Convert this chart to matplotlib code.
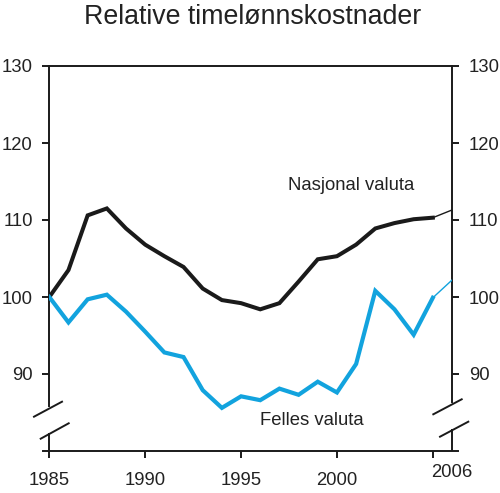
import matplotlib
matplotlib.use("Agg")
import matplotlib.pyplot as plt
from matplotlib.lines import Line2D

plt.rcParams['font.family'] = ['Liberation Sans', 'DejaVu Sans']

# Data (index, 1985 = 100)
years = list(range(1985, 2007))
nasjonal = [100.0, 103.5, 110.6, 111.5, 108.9, 106.8, 105.3, 103.9, 101.1, 99.6, 99.2,
            98.4, 99.2, 102.0, 104.9, 105.3, 106.8, 108.9, 109.6, 110.1, 110.3, 111.3]
felles = [100.0, 96.7, 99.7, 100.3, 98.1, 95.5, 92.8, 92.2, 87.9, 85.6, 87.1,
          86.6, 88.1, 87.3, 89.0, 87.6, 91.3, 100.8, 98.4, 95.1, 99.9, 102.2]
xticks = [1985, 1990, 1995, 2000, 2005]
xticklabels = ['1985', '1990', '1995', '2000', '']
yticks = [90, 100, 110, 120, 130]

black = '#1a1a1a'
blue = '#12a3de'
W, H = 500, 493

fig = plt.figure(figsize=(5, 4.93), dpi=100)
ax = fig.add_axes([49.3 / W, 1 - 451 / H, (452 - 49.3) / W, (451 - 66) / H])

# historical part thick, last year (projection) thin
ax.plot(years[:-1], nasjonal[:-1], color=black, lw=2.9, solid_joinstyle='miter', zorder=3)
ax.plot(years[-2:], nasjonal[-2:], color=black, lw=1.0, zorder=3)
ax.plot(years[:-1], felles[:-1], color=blue, lw=3.0, solid_joinstyle='miter', zorder=3)
ax.plot(years[-2:], felles[-2:], color=blue, lw=1.0, zorder=3)

ax.set_xlim(1985, 2006)
ax.set_ylim(80, 130)
ax.set_xticks(xticks)
ax.set_xticklabels(xticklabels)
ax.set_yticks(yticks)

lw_sp = 1.4
for s in ax.spines.values():
    s.set_linewidth(lw_sp)
    s.set_color(black)
ax.spines['bottom'].set_bounds(1985 - 6 / 19.18, 2006 + 6 / 19.18)
ax.spines['left'].set_bounds(85.8, 130)
ax.spines['right'].set_bounds(86.3, 130)
ax.plot([1985, 1985], [80, 82.4], color=black, lw=lw_sp, clip_on=False, solid_capstyle='butt')
ax.plot([2006, 2006], [80, 82.8], color=black, lw=lw_sp, clip_on=False, solid_capstyle='butt')

ax.tick_params(axis='both', direction='out', length=5, width=lw_sp, colors=black,
               labelsize=13.3, labelcolor='#222222')
ax.tick_params(axis='y', right=True, labelright=True, pad=7)
ax.tick_params(axis='x', pad=10)

ax.text(2006, -0.055, '2006', transform=ax.get_xaxis_transform(), ha='center', va='center',
        fontsize=13.3, color='#222222')

ax.text(1997.45, 114.5, 'Nasjonal valuta', ha='left', va='center', fontsize=13.3, color='#222222')
ax.text(1996.0, 84.0, 'Felles valuta', ha='left', va='center', fontsize=13.3, color='#222222')

fig.text(252.5 / W, 1 - 24 / H, 'Relative timelønnskostnader', ha='center', va='baseline',
         fontsize=19.3, color='#222222')

# axis break marks
breaks = [((34, 416.7), (62, 401.7)), ((40.7, 438.7), (68.7, 423.3)),
          ((433.3, 414.3), (461.7, 399.3)), ((440, 436.7), (468.3, 421.7))]
for (x0, y0), (x1, y1) in breaks:
    fig.add_artist(Line2D([x0 / W, x1 / W], [1 - y0 / H, 1 - y1 / H], color=black, lw=lw_sp))

fig.savefig('out.png', dpi=100)
